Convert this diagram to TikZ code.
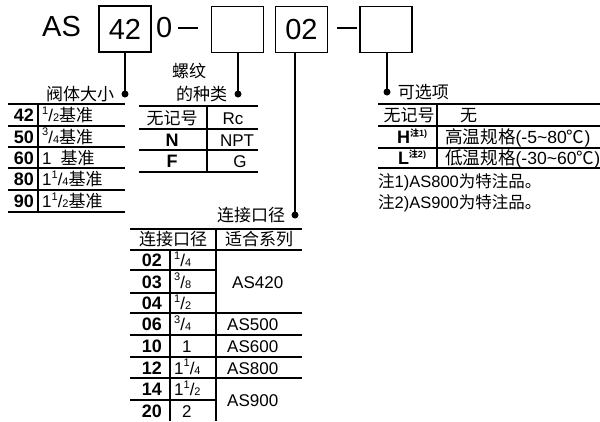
\documentclass[tikz,border=0pt]{standalone}
\usepackage{fontspec}
\setmainfont{Liberation Sans}
\newfontfamily\cjk{Noto Sans CJK SC}
\usetikzlibrary{positioning}
\newcommand\fsz[1]{\fontsize{#1}{#1}\selectfont}
\newcommand\frc[2]{\raisebox{.42em}{\fsz{11}#1}/{\fsz{11}#2}}
\tikzset{
 codebox/.style={draw, line width=1.7, minimum width=52, minimum height=46, inner sep=0, font=\fsz{29}},
 big/.style={inner sep=0, font=\fsz{29}},
 lbl/.style={inner sep=0, font=\cjk\fsz{17}},
 cell/.style={inner sep=0, font=\fsz{17}},
 num/.style={inner sep=0, font=\bfseries\fsz{18}},
 rule/.style={line width=1.2},
 link/.style={line width=1.1},
 dot/.style={circle, fill, inner sep=0, minimum size=7},
}
\begin{document}
\begin{tikzpicture}[x=1pt,y=-1pt]
\useasboundingbox (0,0) rectangle (600,421);
\node[big, anchor=base west] (as) at (42,36) {AS};
\node[codebox] (size) at (125,29) {42};
\node[big, anchor=base west] (zero) at (156,37) {0};
\draw[line width=1.7] (178,28) -- (198,28);
\node[codebox] (thread) at (237.5,29.5) {};
\node[codebox] (port) at (301.5,29.5) {02};
\draw[line width=1.7] (337,28) -- (357,28);
\node[codebox] (option) at (386,29.5) {};

\node[dot] (sizedot) at (125,94) {};
\node[dot] (threaddot) at (238,94) {};
\node[dot] (portdot) at (295,215) {};
\node[dot] (optiondot) at (387,92) {};
\draw[link] (size.south) -- (sizedot.center);
\draw[link] (thread.south -| threaddot) -- (threaddot.center);
\draw[link] (port.south -| portdot) -- (portdot.center);
\draw[link] (option.south -| optiondot) -- (optiondot.center);
\node[lbl, left=7pt of sizedot] (sizelbl) {阀体大小};
\node[lbl, left=7pt of threaddot] (threadlbl) {的种类};
\node[lbl, anchor=west] (threadlbl2) at (172,71) {螺纹};
\node[lbl, left=6pt of portdot] (portlbl) {连接口径};
\node[lbl, right=7pt of optiondot] (optionlbl) {可选项};

\foreach \y in {104,126,147,168,190,212}
 \draw[rule] (8,\y) -- (125,\y);
\draw[rule] (38,104) -- (38,212);
\foreach \y/\n/\s [count=\i] in {115/42/{\frc12\cjk 基准}, 136.5/50/{\frc34\cjk 基准},
  157.5/60/{1\hspace{9pt}{\cjk 基准}}, 179/80/{1\frc14\cjk 基准}, 201/90/{1\frc12\cjk 基准}} {
 \node[num, anchor=base east] (sz\i) at (34,\y+6.5) {\n};
 \node[cell, anchor=base west] (szd\i) at (42,\y+6.5) {\s};
}

\foreach \y in {106,129,150,172}
 \draw[rule] (139,\y) -- (258,\y);
\draw[rule] (207,106) -- (207,172);
\node[cell, font=\cjk\fsz{17}, anchor=base] (th1) at (172,124) {无记号};
\node[cell, anchor=base] (thd1) at (233,124) {Rc};
\node[num, anchor=base] (th2) at (172,146) {N};
\node[cell, anchor=base] (thd2) at (237,146) {NPT};
\node[num, anchor=base] (th3) at (172,167.5) {F};
\node[cell, anchor=base] (thd3) at (240,167.5) {G};

\draw[rule] (130,229) -- (302,229);
\foreach \y in {250,313,335,357,378}
 \draw[rule] (130,\y) -- (302,\y);
\foreach \y in {270,293,400}
 \draw[rule] (130,\y) -- (216,\y);
\draw[rule] (216,229) -- (216,421);
\draw[rule] (170,250) -- (170,421);
\node[lbl] (porthead) at (173,239.5) {连接口径};
\node[lbl] (serieshead) at (259,239.5) {适合系列};
\foreach \y/\n/\s [count=\i] in {260/02/{\frc14}, 281.5/03/{\frc38}, 303/04/{\frc12},
  324/06/{\frc34}, 346/10/{\hspace{8pt}1}, 367.5/12/{1\frc14}, 389/14/{1\frc12}, 410.5/20/{\hspace{8pt}2}} {
 \node[num, anchor=base east] (pt\i) at (162,\y+6.5) {\n};
 \node[cell, anchor=base west] (ptd\i) at (174,\y+6.5) {\s};
}
\node[cell, anchor=base west] (s420) at (232,288) {AS420};
\node[cell, anchor=base west] (s500) at (227,330.5) {AS500};
\node[cell, anchor=base west] (s600) at (227,352.5) {AS600};
\node[cell, anchor=base west] (s800) at (227,374) {AS800};
\node[cell, anchor=base west] (s900) at (227,406) {AS900};

\foreach \y in {104,126,148,168}
 \draw[rule] (378,\y) -- (600,\y);
\draw[rule] (437,104) -- (437,168);
\node[cell, font=\cjk\fsz{17}, anchor=base] (op1) at (409,121.5) {无记号};
\node[cell, font=\cjk\fsz{17}, anchor=base west] (opd1) at (460,121.5) {无};
\node[num, anchor=base] (op2) at (412,143.5) {H\raisebox{.4em}{\fsz{9}\cjk 注\fontspec{Liberation Sans}\bfseries 1)}};
\node[cell, font=\fsz{17.6}, anchor=base west] (opd2) at (445,143.5) {{\cjk 高温规格}(-5\textasciitilde80{\cjk ℃})};
\node[num, anchor=base] (op3) at (412,164.5) {L\raisebox{.4em}{\fsz{9}\cjk 注\fontspec{Liberation Sans}\bfseries 2)}};
\node[cell, font=\fsz{17.6}, anchor=base west] (opd3) at (445,164.5) {{\cjk 低温规格}(-30\textasciitilde60{\cjk ℃})};
\node[cell, font=\fsz{16.5}, anchor=base west] (note1) at (378,187) {{\cjk 注}1)AS800{\cjk 为特注品。}};
\node[cell, font=\fsz{16.5}, anchor=base west] (note2) at (378,208) {{\cjk 注}2)AS900{\cjk 为特注品。}};
\end{tikzpicture}
\end{document}
